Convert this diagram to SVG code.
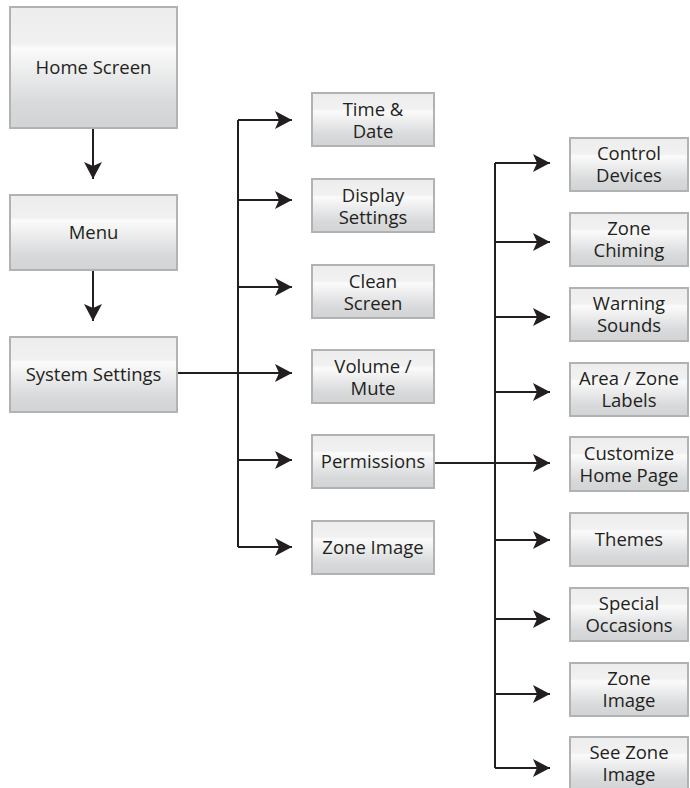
<svg xmlns="http://www.w3.org/2000/svg" width="690" height="788" viewBox="0 0 690 788">
<defs>
<linearGradient id="g" x1="0" y1="0" x2="0" y2="1">
<stop offset="0" stop-color="#ededee"/>
<stop offset="0.3" stop-color="#f1f1f2"/>
<stop offset="0.34" stop-color="#fbfbfb"/>
<stop offset="0.8" stop-color="#d8d9db"/>
<stop offset="1" stop-color="#d2d3d5"/>
</linearGradient>
<marker id="ah" viewBox="0 0 18 18" refX="17" refY="9" markerWidth="18" markerHeight="18" markerUnits="userSpaceOnUse" orient="auto">
<path d="M0,0 L17,9 L0,18 L4,9 Z" fill="#231f20"/>
</marker>
<style>
.b{fill:url(#g);stroke:#b0b2b4;stroke-width:2}
.t{font-family:"Open Sans","Liberation Sans",sans-serif;font-size:18.5px;fill:#231f20;text-anchor:middle}
.c{fill:none;stroke:#231f20;stroke-width:2}
</style>
</defs>
<g id="connectors">
<path class="c" d="M93,128 V179" marker-end="url(#ah)"/>
<path class="c" d="M93,270 V321" marker-end="url(#ah)"/>
<path class="c" d="M238,120 V547"/>
<path class="c" d="M238,120 H292" marker-end="url(#ah)"/>
<path class="c" d="M238,200 H292" marker-end="url(#ah)"/>
<path class="c" d="M238,287 H292" marker-end="url(#ah)"/>
<path class="c" d="M177,373 H292" marker-end="url(#ah)"/>
<path class="c" d="M238,460 H292" marker-end="url(#ah)"/>
<path class="c" d="M238,547 H292" marker-end="url(#ah)"/>
<path class="c" d="M495,163 V768"/>
<path class="c" d="M495,163 H550" marker-end="url(#ah)"/>
<path class="c" d="M495,242 H550" marker-end="url(#ah)"/>
<path class="c" d="M495,317 H550" marker-end="url(#ah)"/>
<path class="c" d="M495,392 H550" marker-end="url(#ah)"/>
<path class="c" d="M434,463 H550" marker-end="url(#ah)"/>
<path class="c" d="M495,540 H550" marker-end="url(#ah)"/>
<path class="c" d="M495,619 H550" marker-end="url(#ah)"/>
<path class="c" d="M495,694 H550" marker-end="url(#ah)"/>
<path class="c" d="M495,768 H550" marker-end="url(#ah)"/>
</g>
<g id="home"><rect class="b" x="10" y="7" width="167" height="121"/><text class="t" x="93.5" y="74">Home Screen</text></g>
<g id="menu"><rect class="b" x="10" y="195" width="167" height="75"/><text class="t" x="93.5" y="239">Menu</text></g>
<g id="system"><rect class="b" x="10" y="337" width="167" height="75"/><text class="t" x="93.5" y="381">System Settings</text></g>

<g id="timedate"><rect class="b" x="312" y="93" width="122" height="53"/><text class="t" x="373" y="116">Time &amp;<tspan x="373" dy="22">Date</tspan></text></g>
<g id="display"><rect class="b" x="312" y="179" width="122" height="53"/><text class="t" x="373" y="202">Display<tspan x="373" dy="22">Settings</tspan></text></g>
<g id="clean"><rect class="b" x="312" y="265" width="122" height="53"/><text class="t" x="373" y="288">Clean<tspan x="373" dy="22">Screen</tspan></text></g>
<g id="volume"><rect class="b" x="312" y="350" width="122" height="53"/><text class="t" x="373" y="373">Volume /<tspan x="373" dy="22">Mute</tspan></text></g>
<g id="permissions"><rect class="b" x="312" y="435" width="122" height="53"/><text class="t" x="373" y="468">Permissions</text></g>
<g id="zoneimage1"><rect class="b" x="312" y="521" width="122" height="53"/><text class="t" x="373" y="554">Zone Image</text></g>

<g id="control"><rect class="b" x="570" y="138" width="118" height="53"/><text class="t" x="629" y="160">Control<tspan x="629" dy="22">Devices</tspan></text></g>
<g id="chiming"><rect class="b" x="570" y="213" width="118" height="53"/><text class="t" x="629" y="235">Zone<tspan x="629" dy="22">Chiming</tspan></text></g>
<g id="warning"><rect class="b" x="570" y="288" width="118" height="53"/><text class="t" x="629" y="310">Warning<tspan x="629" dy="22">Sounds</tspan></text></g>
<g id="labels"><rect class="b" x="570" y="363" width="118" height="53"/><text class="t" x="629" y="385">Area / Zone<tspan x="629" dy="22">Labels</tspan></text></g>
<g id="customize"><rect class="b" x="570" y="437" width="118" height="54"/><text class="t" x="629" y="460">Customize<tspan x="629" dy="22">Home Page</tspan></text></g>
<g id="themes"><rect class="b" x="570" y="513" width="118" height="53"/><text class="t" x="629" y="546">Themes</text></g>
<g id="special"><rect class="b" x="570" y="588" width="118" height="53"/><text class="t" x="629" y="610">Special<tspan x="629" dy="22">Occasions</tspan></text></g>
<g id="zoneimage2"><rect class="b" x="570" y="663" width="118" height="53"/><text class="t" x="629" y="685">Zone<tspan x="629" dy="22">Image</tspan></text></g>
<g id="seezone"><rect class="b" x="570" y="737" width="118" height="53"/><text class="t" x="629" y="759">See Zone<tspan x="629" dy="22">Image</tspan></text></g>
</svg>
